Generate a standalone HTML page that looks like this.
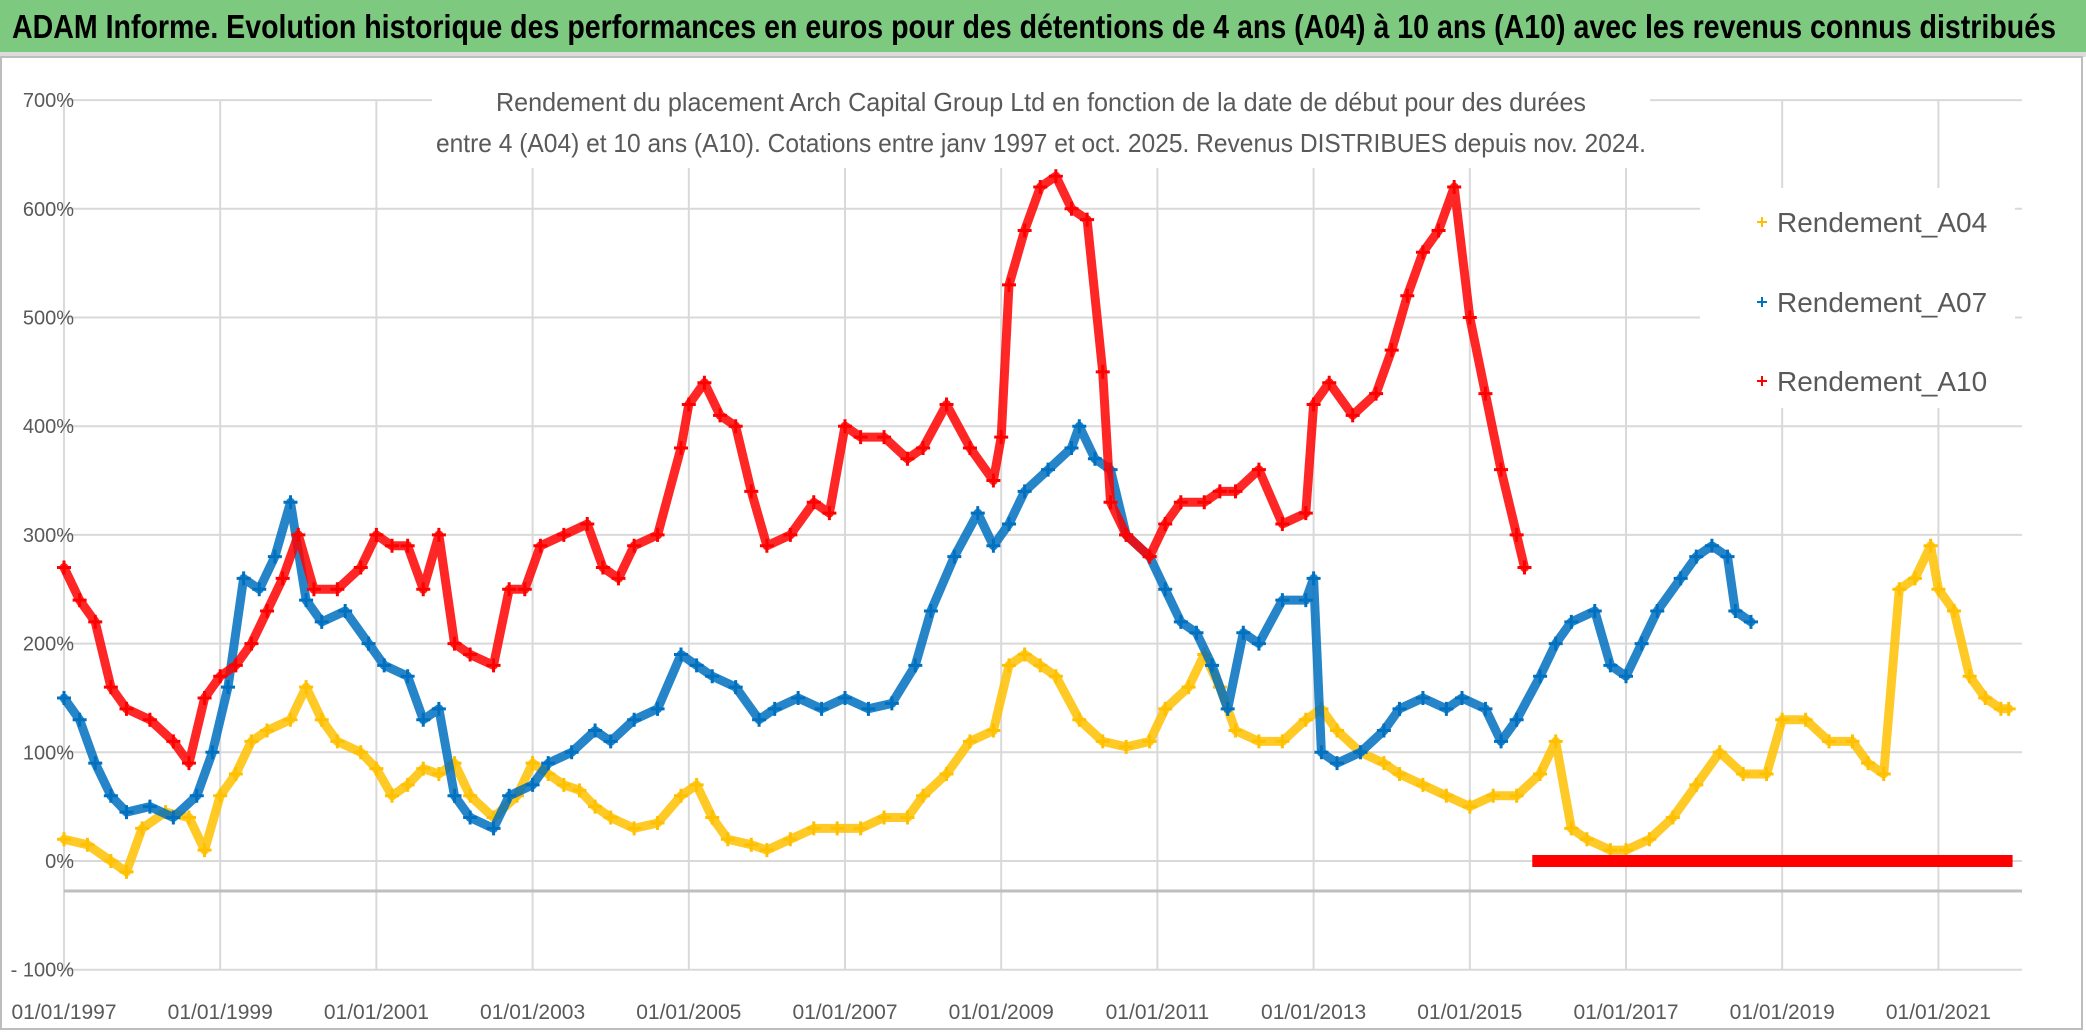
<!DOCTYPE html>
<html><head><meta charset="utf-8"><style>
html,body{margin:0;padding:0;background:#fff;}
svg{display:block;font-family:"Liberation Sans Narrow","Liberation Sans",sans-serif;}
</style></head><body>
<svg id="chart" width="2086" height="1032" viewBox="0 0 2086 1032" xmlns="http://www.w3.org/2000/svg">
<rect x="0" y="0" width="2086" height="1032" fill="#fff"/>
<rect x="0" y="0" width="2086" height="52" fill="#7dc97f"/>
<rect x="0" y="52" width="2086" height="5" fill="#dcdcdc"/>
<text x="12" y="38" font-size="33" font-weight="bold" fill="#000" textLength="2044" lengthAdjust="spacingAndGlyphs">ADAM Informe. Evolution historique des performances en euros pour des détentions de 4 ans (A04) à 10 ans (A10) avec les revenus connus distribués</text>
<rect x="1" y="57" width="2081" height="972" fill="none" stroke="#bdbdbd" stroke-width="2"/>
<g id="grid"></g>
<g id="plot"></g>
<rect x="432" y="80" width="1218" height="88" fill="#fff"/>
<text x="1041" y="111" font-size="26" fill="#595959" text-anchor="middle" textLength="1090" lengthAdjust="spacingAndGlyphs">Rendement du placement Arch Capital Group Ltd en fonction de la date de début pour des durées</text>
<text x="1041" y="152" font-size="26" fill="#595959" text-anchor="middle" textLength="1210" lengthAdjust="spacingAndGlyphs">entre 4 (A04) et 10 ans (A10). Cotations entre janv 1997 et oct. 2025. Revenus DISTRIBUES depuis nov. 2024.</text>
<g id="legend">
<rect x="1700" y="188" width="315" height="220" fill="#fff"/>
</g>
<g id="axes"></g>
</svg>
<script>
const yTicks = [700,600,500,400,300,200,100,0,-100];
const yTickLabels = ["700%","600%","500%","400%","300%","200%","100%","0%","- 100%"];
const xTicks = [1997,1999,2001,2003,2005,2007,2009,2011,2013,2015,2017,2019,2021];
const xTickLabels = ["01/01/1997","01/01/1999","01/01/2001","01/01/2003","01/01/2005","01/01/2007","01/01/2009","01/01/2011","01/01/2013","01/01/2015","01/01/2017","01/01/2019","01/01/2021"];
const seriesNames = ["Rendement_A04","Rendement_A07","Rendement_A10"];

const a04Years = [1997.0,1997.3,1997.6,1997.8,1998.0,1998.3,1998.6,1998.8,1999.0,1999.2,1999.4,1999.6,1999.9,2000.1,2000.3,2000.5,2000.8,2001.0,2001.2,2001.4,2001.6,2001.8,2002.0,2002.2,2002.5,2002.8,2003.0,2003.2,2003.4,2003.6,2003.8,2004.0,2004.3,2004.6,2004.9,2005.1,2005.3,2005.5,2005.8,2006.0,2006.3,2006.6,2006.9,2007.2,2007.5,2007.8,2008.0,2008.3,2008.6,2008.9,2009.1,2009.3,2009.5,2009.7,2010.0,2010.3,2010.6,2010.9,2011.1,2011.4,2011.6,2011.8,2012.0,2012.3,2012.6,2012.9,2013.1,2013.3,2013.6,2013.9,2014.1,2014.4,2014.7,2015.0,2015.3,2015.6,2015.9,2016.1,2016.3,2016.5,2016.8,2017.0,2017.3,2017.6,2017.9,2018.2,2018.5,2018.8,2019.0,2019.3,2019.6,2019.9,2020.1,2020.3,2020.5,2020.7,2020.9,2021.0,2021.2,2021.4,2021.6,2021.8,2021.9];
const a04Vals = [20,15,0,-10,30,45,40,10,60,80,110,120,130,160,130,110,100,85,60,70,85,80,90,60,40,60,90,80,70,65,50,40,30,35,60,70,40,20,15,10,20,30,30,30,40,40,60,80,110,120,180,190,180,170,130,110,105,110,140,160,190,160,120,110,110,130,140,120,100,90,80,70,60,50,60,60,80,110,30,20,10,10,20,40,70,100,80,80,130,130,110,110,90,80,250,260,290,250,230,170,150,140,140];

const a07Years = [1997.0,1997.2,1997.4,1997.6,1997.8,1998.1,1998.4,1998.7,1998.9,1999.1,1999.3,1999.5,1999.7,1999.9,2000.1,2000.3,2000.6,2000.9,2001.1,2001.4,2001.6,2001.8,2002.0,2002.2,2002.5,2002.7,2003.0,2003.2,2003.5,2003.8,2004.0,2004.3,2004.6,2004.9,2005.1,2005.3,2005.6,2005.9,2006.1,2006.4,2006.7,2007.0,2007.3,2007.6,2007.9,2008.1,2008.4,2008.7,2008.9,2009.1,2009.3,2009.6,2009.9,2010.0,2010.2,2010.4,2010.6,2010.9,2011.1,2011.3,2011.5,2011.7,2011.9,2012.1,2012.3,2012.6,2012.9,2013.0,2013.1,2013.3,2013.6,2013.9,2014.1,2014.4,2014.7,2014.9,2015.2,2015.4,2015.6,2015.9,2016.1,2016.3,2016.6,2016.8,2017.0,2017.2,2017.4,2017.7,2017.9,2018.1,2018.3,2018.4,2018.6];
const a07Vals = [150,130,90,60,45,50,40,60,100,160,260,250,280,330,240,220,230,200,180,170,130,140,60,40,30,60,70,90,100,120,110,130,140,190,180,170,160,130,140,150,140,150,140,145,180,230,280,320,290,310,340,360,380,400,370,360,300,280,250,220,210,180,140,210,200,240,240,260,100,90,100,120,140,150,140,150,140,110,130,170,200,220,230,180,170,200,230,260,280,290,280,230,220];

const a10Years = [1997.0,1997.2,1997.4,1997.6,1997.8,1998.1,1998.4,1998.6,1998.8,1999.0,1999.2,1999.4,1999.6,1999.8,2000.0,2000.2,2000.5,2000.8,2001.0,2001.2,2001.4,2001.6,2001.8,2002.0,2002.2,2002.5,2002.7,2002.9,2003.1,2003.4,2003.7,2003.9,2004.1,2004.3,2004.6,2004.9,2005.0,2005.2,2005.4,2005.6,2005.8,2006.0,2006.3,2006.6,2006.8,2007.0,2007.2,2007.5,2007.8,2008.0,2008.3,2008.6,2008.9,2009.0,2009.1,2009.3,2009.5,2009.7,2009.9,2010.1,2010.3,2010.4,2010.6,2010.9,2011.1,2011.3,2011.6,2011.8,2012.0,2012.3,2012.6,2012.9,2013.0,2013.2,2013.5,2013.8,2014.0,2014.2,2014.4,2014.6,2014.8,2015.0,2015.2,2015.4,2015.6,2015.7];
const a10Vals = [270,240,220,160,140,130,110,90,150,170,180,200,230,260,300,250,250,270,300,290,290,250,300,200,190,180,250,250,290,300,310,270,260,290,300,380,420,440,410,400,340,290,300,330,320,400,390,390,370,380,420,380,350,390,530,580,620,630,600,590,450,330,300,280,310,330,330,340,340,360,310,320,420,440,410,430,470,520,560,580,620,500,430,360,300,270];
const a10ZeroStart = 2015.8;
const a10ZeroEnd = 2021.95;
const a10ZeroVal = 0;

const NS = "http://www.w3.org/2000/svg";
const X0 = 64, PX_PER_YEAR = 78.1, Y0 = 861, PX_PER_PCT = 1.087;
const plotRight = 2022;
function xScale(yr){ return X0 + (yr - 1997) * PX_PER_YEAR; }
function yScale(v){ return Y0 - v * PX_PER_PCT; }
function mk(tag, attrs, parent){ const e = document.createElementNS(NS, tag); for (const k in attrs) e.setAttribute(k, attrs[k]); parent.appendChild(e); return e; }

const grid = document.getElementById('grid');
const axes = document.getElementById('axes');
const plot = document.getElementById('plot');
const legend = document.getElementById('legend');

yTicks.forEach((t, i) => {
  const y = yScale(t);
  const l = mk('line', {x1: X0, x2: plotRight, y1: y, y2: y, stroke: '#d9d9d9', 'stroke-width': 2}, grid);
  
  
  const tx = mk('text', {x: 74, y: y + 7, 'font-size': 20, fill: '#595959', 'text-anchor': 'end'}, axes);
  tx.textContent = yTickLabels[i];
  
  
});
xTicks.forEach((t, i) => {
  const x = xScale(t);
  const l = mk('line', {x1: x, x2: x, y1: yScale(700), y2: yScale(-100), stroke: '#d9d9d9', 'stroke-width': 2}, grid);
  
  
  const tx = mk('text', {x: x, y: 1019, 'font-size': 21, fill: '#595959', 'text-anchor': 'middle'}, axes);
  tx.textContent = xTickLabels[i];
  
  
});
const ax = mk('line', {x1: X0, x2: plotRight, y1: 891, y2: 891, stroke: '#bfbfbf', 'stroke-width': 3}, axes);



function drawSeries(years, vals, color, name){
  const g = mk('g', {}, plot);
  
  
  let d = '';
  years.forEach((yr, i) => { d += (i ? 'L' : 'M') + xScale(yr).toFixed(1) + ' ' + yScale(vals[i]).toFixed(1); });
  mk('path', {d: d, fill: 'none', stroke: color, 'stroke-width': 9, 'stroke-linejoin': 'round', 'stroke-linecap': 'round', opacity: 0.85}, g);
  years.forEach((yr, i) => {
    const x = xScale(yr), y = yScale(vals[i]);
    const p = mk('path', {d: `M${x-7} ${y}H${x+7}M${x} ${y-7}V${y+7}`, stroke: color, 'stroke-width': 3}, g);
    
    
  });
  return g;
}
drawSeries(a04Years, a04Vals, '#ffc000', 'series-a04');
drawSeries(a07Years, a07Vals, '#0070c0', 'series-a07');
const g10 = drawSeries(a10Years, a10Vals, '#ff0000', 'series-a10');
const zb = mk('rect', {x: xScale(a10ZeroStart), y: yScale(a10ZeroVal) - 6, width: xScale(a10ZeroEnd) - xScale(a10ZeroStart), height: 12, fill: '#ff0000'}, g10);



const legColors = ['#ffc000', '#0070c0', '#ff0000'];
const legY = [222, 302, 381];
seriesNames.forEach((n, i) => {
  const g = mk('g', {}, legend);
  
  
  const x = 1762, y = legY[i];
  mk('path', {d: `M${x-5} ${y}H${x+5}M${x} ${y-5}V${y+5}`, stroke: legColors[i], 'stroke-width': 2}, g);
  const t = mk('text', {x: 1777, y: y + 10, 'font-size': 28, fill: '#595959'}, g);
  t.textContent = n;
});
</script>
</body></html>
